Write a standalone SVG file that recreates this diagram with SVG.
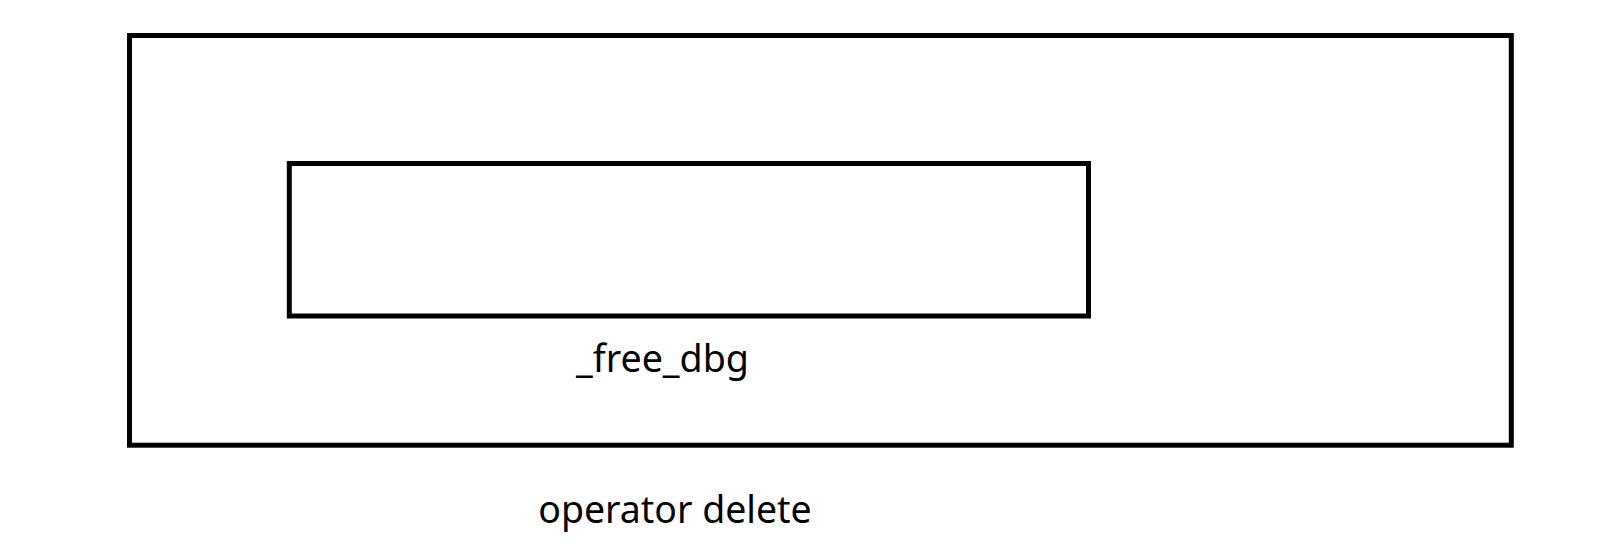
<svg xmlns="http://www.w3.org/2000/svg" width="1623" height="560" viewBox="0 0 1623 560">
<style>
.box{fill:none;stroke:#000;stroke-width:5}
.lbl{font-family:"Noto Sans","Open Sans",sans-serif;font-size:38px;fill:#000}
</style>
<rect width="1623" height="560" fill="#fff"/>
<g id="operator-delete">
<rect class="box" x="129.5" y="35.5" width="1381.8" height="409.7"/>
<text class="lbl" x="538.3" y="523.3" textLength="273.4" lengthAdjust="spacingAndGlyphs">operator delete</text>
</g>
<g id="free-dbg">
<rect class="box" x="289.3" y="163.5" width="799.2" height="152.5"/>
<text class="lbl" x="576" y="371.7" textLength="173" lengthAdjust="spacingAndGlyphs">_free_dbg</text>
</g>
<g id="connectors"/>
</svg>
